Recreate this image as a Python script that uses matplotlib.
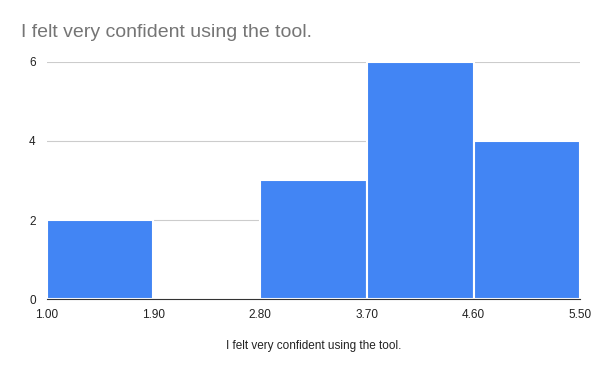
import matplotlib
matplotlib.use("Agg")
import matplotlib.pyplot as plt

plt.rcParams["font.family"] = ["Liberation Sans", "DejaVu Sans"]

bin_edges = [1.00, 1.90, 2.80, 3.70, 4.60, 5.50]
counts = [2, 0, 3, 6, 4]
tick_labels = ["1.00", "1.90", "2.80", "3.70", "4.60", "5.50"]
title = "I felt very confident using the tool."
xlabel = "I felt very confident using the tool."

fig = plt.figure(figsize=(6, 3.71), dpi=100)
ax = fig.add_axes([0.078, 0.194, 0.889, 0.639])

lefts = bin_edges[:-1]
widths = [b - a for a, b in zip(bin_edges[:-1], bin_edges[1:])]
ax.bar(lefts, counts, width=widths, align="edge", color="#4285F4",
       edgecolor="white", linewidth=1.5, zorder=3)

ax.set_xlim(bin_edges[0], bin_edges[-1])
ax.set_ylim(0, 6)
ax.set_yticks([0, 2, 4, 6])
ax.set_xticks(bin_edges)
ax.set_xticklabels(tick_labels)
ax.grid(axis="y", color="#cccccc", linewidth=0.8, zorder=0)
for s in ["top", "right", "left"]:
    ax.spines[s].set_visible(False)
ax.spines["bottom"].set_color("#333333")
ax.spines["bottom"].set_zorder(4)
ax.tick_params(axis="both", length=0, labelsize=8.5, colors="#222222", pad=7)
ax.tick_params(axis="y", pad=8)

ax.set_xlabel(xlabel, fontsize=8.5, color="#222222", labelpad=14)
fig.text(0.035, 0.913, title, fontsize=14, color="#757575", ha="left", va="center")

fig.savefig("out.png", dpi=100)
